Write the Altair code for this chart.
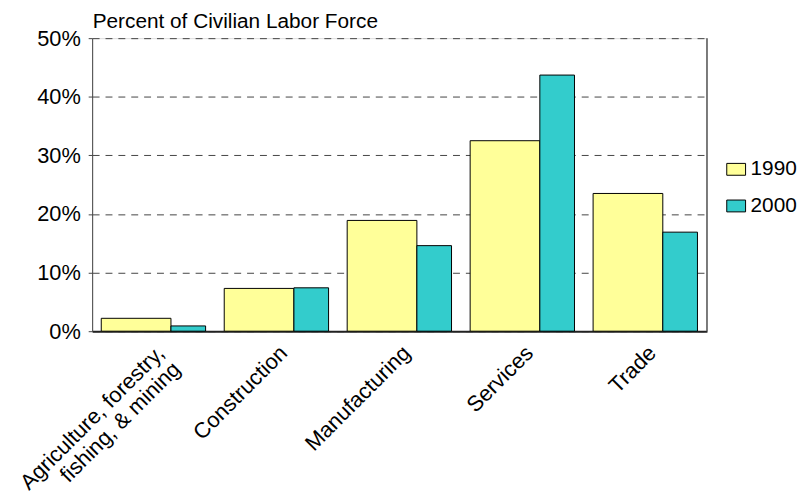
import altair as alt
import pandas as pd

categories = ["Agriculture, forestry, fishing, & mining", "Construction",
              "Manufacturing", "Services", "Trade"]
years = ["1990", "2000"]
values_1990 = [2.2, 7.3, 18.9, 32.5, 23.5]
values_2000 = [0.9, 7.4, 14.6, 43.7, 16.9]
y_ticks = [0, 10, 20, 30, 40, 50]

rows = []
for c, a, b in zip(categories, values_1990, values_2000):
    rows.append({"category": c, "year": "1990", "value": a})
    rows.append({"category": c, "year": "2000", "value": b})
df = pd.DataFrame(rows)

FONT = "Liberation Sans"
W, H = 621, 296

x_enc = alt.X("category:N", sort=categories,
              scale=alt.Scale(paddingInner=0, paddingOuter=0),
              axis=alt.Axis(title=None, labelAngle=-45, labelFontSize=22,
                            labelFont=FONT, labelColor="#000", ticks=False,
                            domainColor="#222", domainWidth=2, labelPadding=11,
                            labelLimit=400,
                            labelExpr="datum.value == 'Agriculture, forestry, fishing, & mining' ? ['Agriculture, forestry,\u00a0\u00a0', 'fishing, & mining'] : datum.value",
                            labelLineHeight=23))
y_enc = alt.Y("value:Q", scale=alt.Scale(domain=[0, 50], nice=False),
              axis=alt.Axis(values=y_ticks, title="Percent of Civilian Labor Force",
                            titleAngle=0, titleX=0, titleY=-11, titleAlign="left",
                            titleBaseline="alphabetic", titleFontSize=21,
                            titleFont=FONT, titleFontWeight="normal", titleColor="#000",
                            labelExpr="datum.value + '%'", labelFontSize=22,
                            labelFont=FONT, labelColor="#000", labelPadding=8,
                            tickSize=4, tickColor="#444", domainColor="#444",
                            grid=True, gridDash=[7, 6], gridColor="#444"))
color_enc = alt.Color("year:N", scale=alt.Scale(domain=years, range=["#FFFF99", "#33CCCC"]),
                      legend=alt.Legend(title=None, orient="none", legendX=640, legendY=122,
                                        labelFontSize=21, labelFont=FONT, labelColor="#000",
                                        symbolType="M-1,-0.63H1V0.63H-1Z", symbolSize=361,
                                        symbolStrokeColor="#000", symbolStrokeWidth=1,
                                        symbolOpacity=1, rowPadding=15, labelOffset=4))

base = alt.Chart(df)
bars_1990 = base.transform_filter(alt.datum.year == "1990").mark_bar(
    width=70.4, xOffset=-17.7, stroke="#000", strokeWidth=1, opacity=1
).encode(x=x_enc, y=y_enc, color=color_enc)
bars_2000 = base.transform_filter(alt.datum.year == "2000").mark_bar(
    width=35, xOffset=35, stroke="#000", strokeWidth=1, opacity=1
).encode(x=x_enc, y=y_enc, color=color_enc)
right_border = alt.Chart(pd.DataFrame({"a": [0]})).mark_rule(color="#555", strokeWidth=1.5).encode(
    x=alt.value(W), y=alt.value(0), y2=alt.value(H))

chart = alt.layer(bars_1990, bars_2000, right_border).properties(
    width=W, height=H,
    autosize=alt.AutoSizeParams(type="none"),
    padding={"left": 85, "top": 28, "right": 96, "bottom": 163},
).configure_view(stroke=None).configure(font=FONT)

chart.save("out.html", embed_options={"renderer": "svg", "actions": False})
